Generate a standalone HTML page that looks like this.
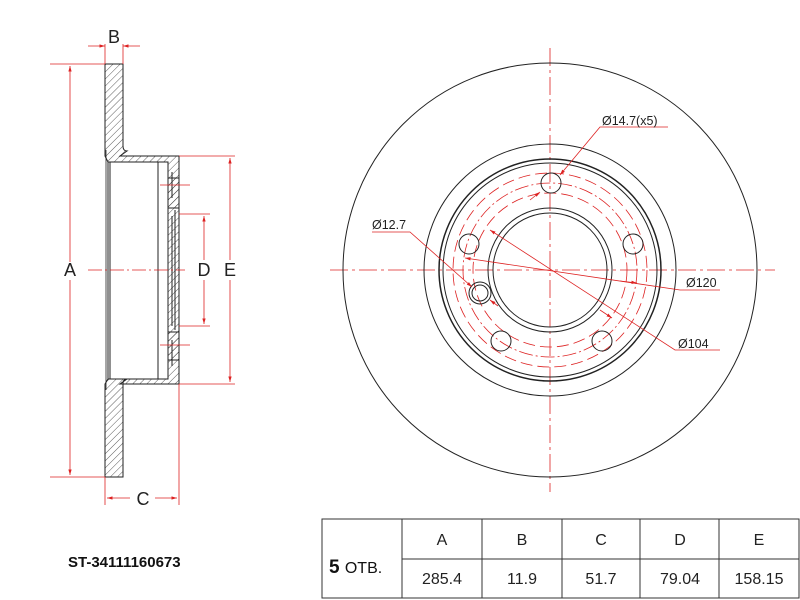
<!DOCTYPE html>
<html><head><meta charset="utf-8"><style>body{margin:0;background:#fff}svg{display:block}</style></head><body>
<svg width="800" height="600" viewBox="0 0 800 600" xmlns="http://www.w3.org/2000/svg" font-family="Liberation Sans, Arial, sans-serif">
<defs>
<pattern id="h" width="5" height="5" patternUnits="userSpaceOnUse" patternTransform="rotate(45)"><line x1="0" y1="0" x2="0" y2="5" stroke="#333" stroke-width="0.8"/></pattern>
<marker id="a" viewBox="0 0 10 10" refX="10" refY="5" markerWidth="7" markerHeight="7" orient="auto-start-reverse"><path d="M0,2 L10,5 L0,8z" fill="#d22"/></marker>
</defs>
<g stroke="#222" stroke-width="1">
<path d="M105,64 H123 V146 Q123,151 127,151 L120,156 H179 V384 H120 L127,379 Q123,379 123,384 V477 H105 V384 L108,379 V162 L105,156 Z" fill="url(#h)"/>
<rect x="108" y="162" width="60" height="217" fill="#fff"/>
<rect x="168" y="178" width="11" height="30" fill="url(#h)"/>
<rect x="168" y="332" width="11" height="28" fill="url(#h)"/>
<line x1="106" y1="150" x2="106" y2="390" stroke-width="0.8"/>
<line x1="110" y1="162" x2="110" y2="379"/>
<line x1="158" y1="162" x2="158" y2="379"/>
<line x1="172" y1="216" x2="172" y2="326"/>
<line x1="175" y1="210" x2="175" y2="330"/>
<line x1="172" y1="172" x2="172" y2="198"/>
<line x1="172" y1="340" x2="172" y2="366"/>
</g>
<g stroke="#d22" stroke-width="0.8" fill="none">
<line x1="88" y1="270" x2="185" y2="270" stroke-dasharray="14,3,2,3"/>
<line x1="160" y1="185" x2="190" y2="185"/><line x1="160" y1="345" x2="190" y2="345"/>
<line x1="50" y1="64" x2="105" y2="64"/><line x1="50" y1="477" x2="105" y2="477"/>
<line x1="70" y1="66" x2="70" y2="262" marker-start="url(#a)"/><line x1="70" y1="280" x2="70" y2="475" marker-end="url(#a)"/>
<line x1="105" y1="44" x2="105" y2="64"/><line x1="123" y1="44" x2="123" y2="64"/>
<line x1="88" y1="46" x2="105" y2="46" marker-end="url(#a)"/><line x1="140" y1="46" x2="123" y2="46" marker-end="url(#a)"/>
<line x1="105" y1="477" x2="105" y2="505"/><line x1="179" y1="384" x2="179" y2="505"/>
<line x1="107" y1="498" x2="130" y2="498" marker-start="url(#a)"/><line x1="155" y1="498" x2="177" y2="498" marker-end="url(#a)"/>
<line x1="179" y1="214" x2="210" y2="214"/><line x1="179" y1="326" x2="210" y2="326"/>
<line x1="204" y1="216" x2="204" y2="260" marker-start="url(#a)"/><line x1="204" y1="280" x2="204" y2="324" marker-end="url(#a)"/>
<line x1="179" y1="156" x2="235" y2="156"/><line x1="179" y1="384" x2="235" y2="384"/>
<line x1="230" y1="158" x2="230" y2="260" marker-start="url(#a)"/><line x1="230" y1="280" x2="230" y2="382" marker-end="url(#a)"/>
</g>
<g font-size="18" fill="#222" text-anchor="middle">
<text x="70" y="276">A</text><text x="114" y="43">B</text><text x="143" y="505">C</text><text x="204" y="276">D</text><text x="230" y="276">E</text>
</g>
<g stroke="#d22" stroke-width="0.8" fill="none">
<line x1="330" y1="270" x2="775" y2="270" stroke-dasharray="18,4,3,4"/>
<line x1="550" y1="48" x2="550" y2="492" stroke-dasharray="18,4,3,4"/>
<circle cx="550" cy="270" r="87" stroke-dasharray="14,3,2,3"/>
<circle cx="550" cy="270" r="77" stroke-dasharray="12,5"/>
<circle cx="550" cy="270" r="97" stroke-dasharray="12,5"/>
</g>
<g stroke="#222" stroke-width="1" fill="none">
<circle cx="550" cy="270" r="207"/>
<circle cx="550" cy="270" r="126"/>
<circle cx="550" cy="270" r="111" stroke-width="1.5"/>
<circle cx="550" cy="270" r="107"/>
<circle cx="550" cy="270" r="62"/>
<circle cx="550" cy="270" r="57"/>
<circle cx="551" cy="183" r="10"/><circle cx="469" cy="244" r="10"/><circle cx="633" cy="244" r="10"/>
<circle cx="501" cy="341" r="10"/><circle cx="602" cy="341" r="10"/>
<circle cx="480" cy="293" r="11"/><circle cx="480" cy="293" r="8"/>
</g>
<g stroke="#d22" stroke-width="0.8" fill="none">
<polyline points="668,127 600,127 560,175" marker-end="url(#a)"/>
<line x1="530" y1="200" x2="540" y2="192" marker-end="url(#a)"/>
<polyline points="372,232 410,232 472,287" marker-end="url(#a)"/>
<line x1="498" y1="306" x2="490" y2="300" marker-end="url(#a)"/>
<polyline points="720,290 680,290 465,258" marker-end="url(#a)"/>
<line x1="620" y1="281" x2="637" y2="283" marker-end="url(#a)"/>
<polyline points="720,350 675,350 490,230" marker-end="url(#a)"/>
<line x1="600" y1="310" x2="612" y2="318" marker-end="url(#a)"/>
</g>
<g font-size="12.5" fill="#222">
<text x="602" y="125">Ø14.7(x5)</text>
<text x="372" y="229">Ø12.7</text>
<text x="686" y="287">Ø120</text>
<text x="678" y="348">Ø104</text>
</g>
<g stroke="#333" stroke-width="1" fill="none">
<rect x="322" y="519" width="477" height="79"/>
<line x1="402" y1="559" x2="799" y2="559"/>
<line x1="402" y1="519" x2="402" y2="598"/><line x1="482" y1="519" x2="482" y2="598"/>
<line x1="562" y1="519" x2="562" y2="598"/><line x1="640" y1="519" x2="640" y2="598"/>
<line x1="719" y1="519" x2="719" y2="598"/>
</g>
<g font-size="16" fill="#222" text-anchor="middle">
<text x="442" y="545">A</text><text x="522" y="545">B</text><text x="601" y="545">C</text><text x="680" y="545">D</text><text x="759" y="545">E</text>
<text x="442" y="584">285.4</text><text x="522" y="584">11.9</text><text x="601" y="584">51.7</text><text x="680" y="584">79.04</text><text x="759" y="584">158.15</text>
</g>
<text x="329" y="573" font-size="19" font-weight="bold" fill="#111">5 <tspan font-size="16" font-weight="normal">ОТВ.</tspan></text>
<text x="68" y="567" font-size="15" font-weight="bold" fill="#111">ST-34111160673</text>
</svg>
</body></html>
